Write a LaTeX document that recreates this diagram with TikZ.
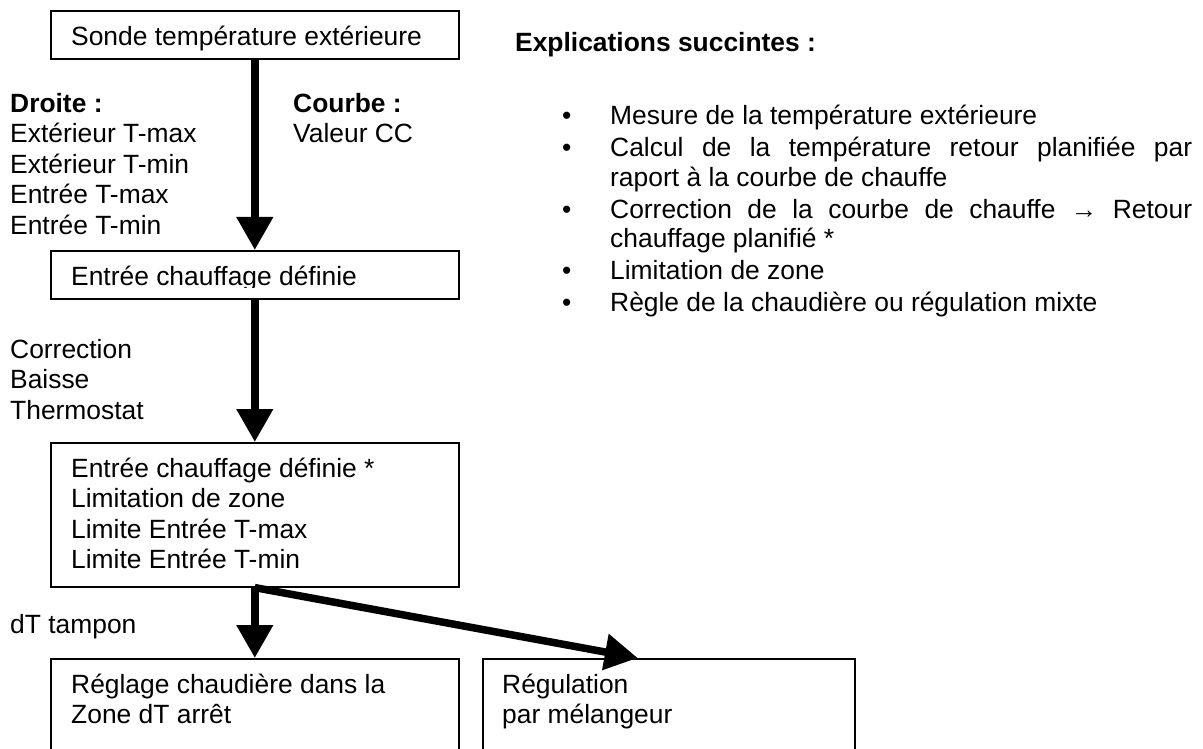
\documentclass[tikz,border=0pt]{standalone}
\usepackage{fontspec}
\setmainfont{Liberation Sans}
\usetikzlibrary{arrows.meta,positioning}

\newcommand\expitem[1]{\par\noindent\hangindent=48pt\hangafter=1\strut\makebox[48pt][l]{\textbullet}#1\par}

\tikzset{
  box/.style={draw, line width=1.6pt, anchor=north west, inner sep=0pt, minimum width=408pt},
  txt/.style={anchor=north west, inner sep=0pt, align=left, font=\fontsize{26.4}{30.5}\selectfont},
  flow/.style={line width=7.5pt, -{Triangle[width=35pt,length=33pt]}},
}

\begin{document}
\begin{tikzpicture}[x=1pt, y=-1pt]
    \useasboundingbox (0,0) rectangle (1203,749) ;

    % boxes of the chain
    \node[box, minimum height=48pt] (b1) at (50,10) {} ;
    \node[box, minimum height=48pt] (b2) at (50,250) {} ;
    \node[box, minimum height=144pt] (b3) at (50,442) {} ;
    \node[box, minimum height=120pt] (b4) at (50,658) {} ;
    \node[box, minimum height=120pt, minimum width=372pt] (b5) at (482,658) {} ;

    % texts in the boxes
    \node[txt] (t1) at ([shift={(21,13.65)}]b1.north west) {\strut Sonde température extérieure} ;
    \begin{scope}
        \clip (50,250) rectangle (458,287.5) ;
        \node[txt] (t2) at ([shift={(21,13.65)}]b2.north west) {\strut Entrée chauffage définie} ;
    \end{scope}
    \node[txt] (t3) at ([shift={(21,13.65)}]b3.north west) {\strut Entrée chauffage définie *\\Limitation de zone\\Limite Entrée T-max\\Limite Entrée T-min} ;
    \node[txt] (t4) at ([shift={(21,13.65)}]b4.north west) {\strut Réglage chaudière dans la\\Zone dT arrêt} ;
    \node[txt] (t5) at ([shift={(20,13.65)}]b5.north west) {\strut Régulation\\par mélangeur} ;

    % side labels
    \node[txt] (droite) at (10,90.65) {\strut\textbf{Droite :}\\Extérieur T-max\\Extérieur T-min\\Entrée T-max\\Entrée T-min} ;
    \node[txt] (courbe) at (293,90.65) {\strut\textbf{Courbe :}\\Valeur CC} ;
    \node[txt] (corr) at (10,336.65) {\strut Correction\\Baisse\\Thermostat} ;
    \node[txt] (tampon) at (10,611.65) {\strut dT tampon} ;

    % explanations
    \node[txt] (titre) at (515,29.65) {\strut\textbf{Explications succintes :}} ;
    \node[txt, text width=630pt, align=justify, font=\fontsize{26.4}{29.5}\selectfont] (expl) at (562,92.35) {%
        \parskip=2.5pt \tolerance=9999 \hbadness=10000 \spaceskip=7.34pt plus 30pt
        \expitem{Mesure de la température extérieure}
        \expitem{Calcul de la température retour planifiée par raport à la courbe de chauffe}
        \expitem{Correction de la courbe de chauffe → Retour chauffage planifié *}
        \expitem{Limitation de zone}
        \expitem{Règle de la chaudière ou régulation mixte}} ;

    % arrows
    \draw[flow] (b1.south) -- (b2.north) ;
    \draw[flow] (b2.south) -- (b3.north) ;
    \draw[flow] (b3.south) -- (b4.north) ;
    \draw[flow] (b3.south) -- ([xshift=-31pt]b5.north) ;
\end{tikzpicture}
\end{document}
